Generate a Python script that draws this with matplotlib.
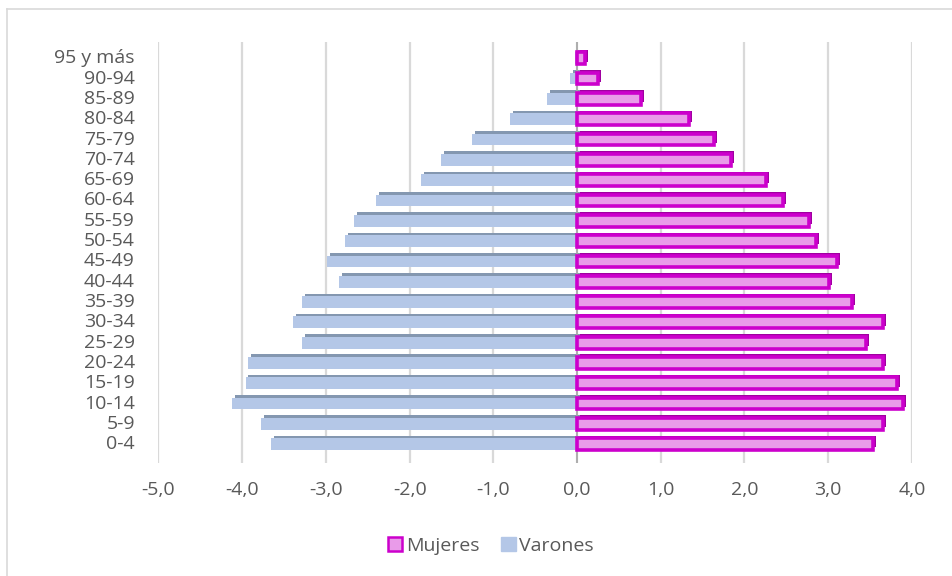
import matplotlib
matplotlib.use("Agg")
import matplotlib.pyplot as plt
from matplotlib.patches import Patch

plt.rcParams['font.family'] = ['Open Sans', 'DejaVu Sans']

# Age groups, youngest first
grupos = ["0-4", "5-9", "10-14", "15-19", "20-24", "25-29", "30-34", "35-39",
          "40-44", "45-49", "50-54", "55-59", "60-64", "65-69", "70-74",
          "75-79", "80-84", "85-89", "90-94", "95 y más"]

# Share of total population (%), women on the right, men on the left (negative)
mujeres = [3.53, 3.66, 3.89, 3.82, 3.65, 3.45, 3.66, 3.29, 3.01, 3.11,
           2.85, 2.77, 2.46, 2.26, 1.84, 1.64, 1.34, 0.76, 0.25, 0.09]
varones = [-3.66, -3.78, -4.12, -3.96, -3.93, -3.29, -3.39, -3.28, -2.84, -2.99,
           -2.77, -2.66, -2.40, -1.86, -1.62, -1.26, -0.80, -0.36, -0.08, -0.02]

xticks = [-5, -4, -3, -2, -1, 0, 1, 2, 3, 4]
xticklabels = ["-5,0", "-4,0", "-3,0", "-2,0", "-1,0", "0,0", "1,0", "2,0", "3,0", "4,0"]

texto = "#595959"
rejilla = "#D9D9D9"
rosa_borde = "#CC00CC"
rosa_fondo = "#E99BE9"
azul = "#B4C7E7"
azul_oscuro = "#8497B0"

fig = plt.figure(figsize=(9.53, 5.76), dpi=100)
ax = fig.add_axes([0.1663, 0.196, 0.7906, 0.731])

y = list(range(len(grupos)))
h = 0.58
dx, dy = 0.035, 0.13  # depth offset for the bevelled look

# depth (back faces)
ax.barh([v + dy for v in y], varones, height=h, left=dx, color=azul_oscuro, zorder=2)
ax.barh([v + dy for v in y], mujeres, height=h, left=dx, color="#A000A0", zorder=2)
# front faces
ax.barh(y, varones, height=h, color=azul, zorder=3)
ax.barh(y, mujeres, height=h, color=rosa_fondo, edgecolor=rosa_borde,
        linewidth=2.6, zorder=4)

# category axis at zero
ax.axvline(0, color="#A6A6A6", linewidth=1.2, zorder=2.5)

ax.set_xlim(-5, 4)
ax.set_ylim(-0.93, 19.8)
ax.set_xticks(xticks)
ax.set_xticklabels(xticklabels)
ax.set_yticks(y)
ax.set_yticklabels(grupos)
ax.xaxis.grid(True, color=rejilla, linewidth=1.6, zorder=0)
ax.set_axisbelow(True)
for s in ax.spines.values():
    s.set_visible(False)
ax.tick_params(axis="both", length=0, labelsize=14, colors=texto)
ax.tick_params(axis="x", pad=13)
ax.tick_params(axis="y", pad=17)
for lab in ax.get_yticklabels():
    lab.set_verticalalignment("center")

# legend
handles = [Patch(facecolor=rosa_fondo, edgecolor=rosa_borde, linewidth=1.8, label="Mujeres"),
           Patch(facecolor=azul, edgecolor=azul, label="Varones")]
fig.legend(handles=handles, loc="center", bbox_to_anchor=(0.515, 0.052), ncol=2,
           frameon=False, fontsize=14, labelcolor=texto, handlelength=0.75,
           handleheight=0.75, handletextpad=0.2, columnspacing=1.1)

# outer chart frame
fig.add_artist(plt.Line2D([0.0075, 0.0075], [0.0, 0.984], color=rejilla, linewidth=1.2))
fig.add_artist(plt.Line2D([0.0075, 1.0], [0.984, 0.984], color=rejilla, linewidth=1.2))

fig.savefig("out.png", dpi=100)
